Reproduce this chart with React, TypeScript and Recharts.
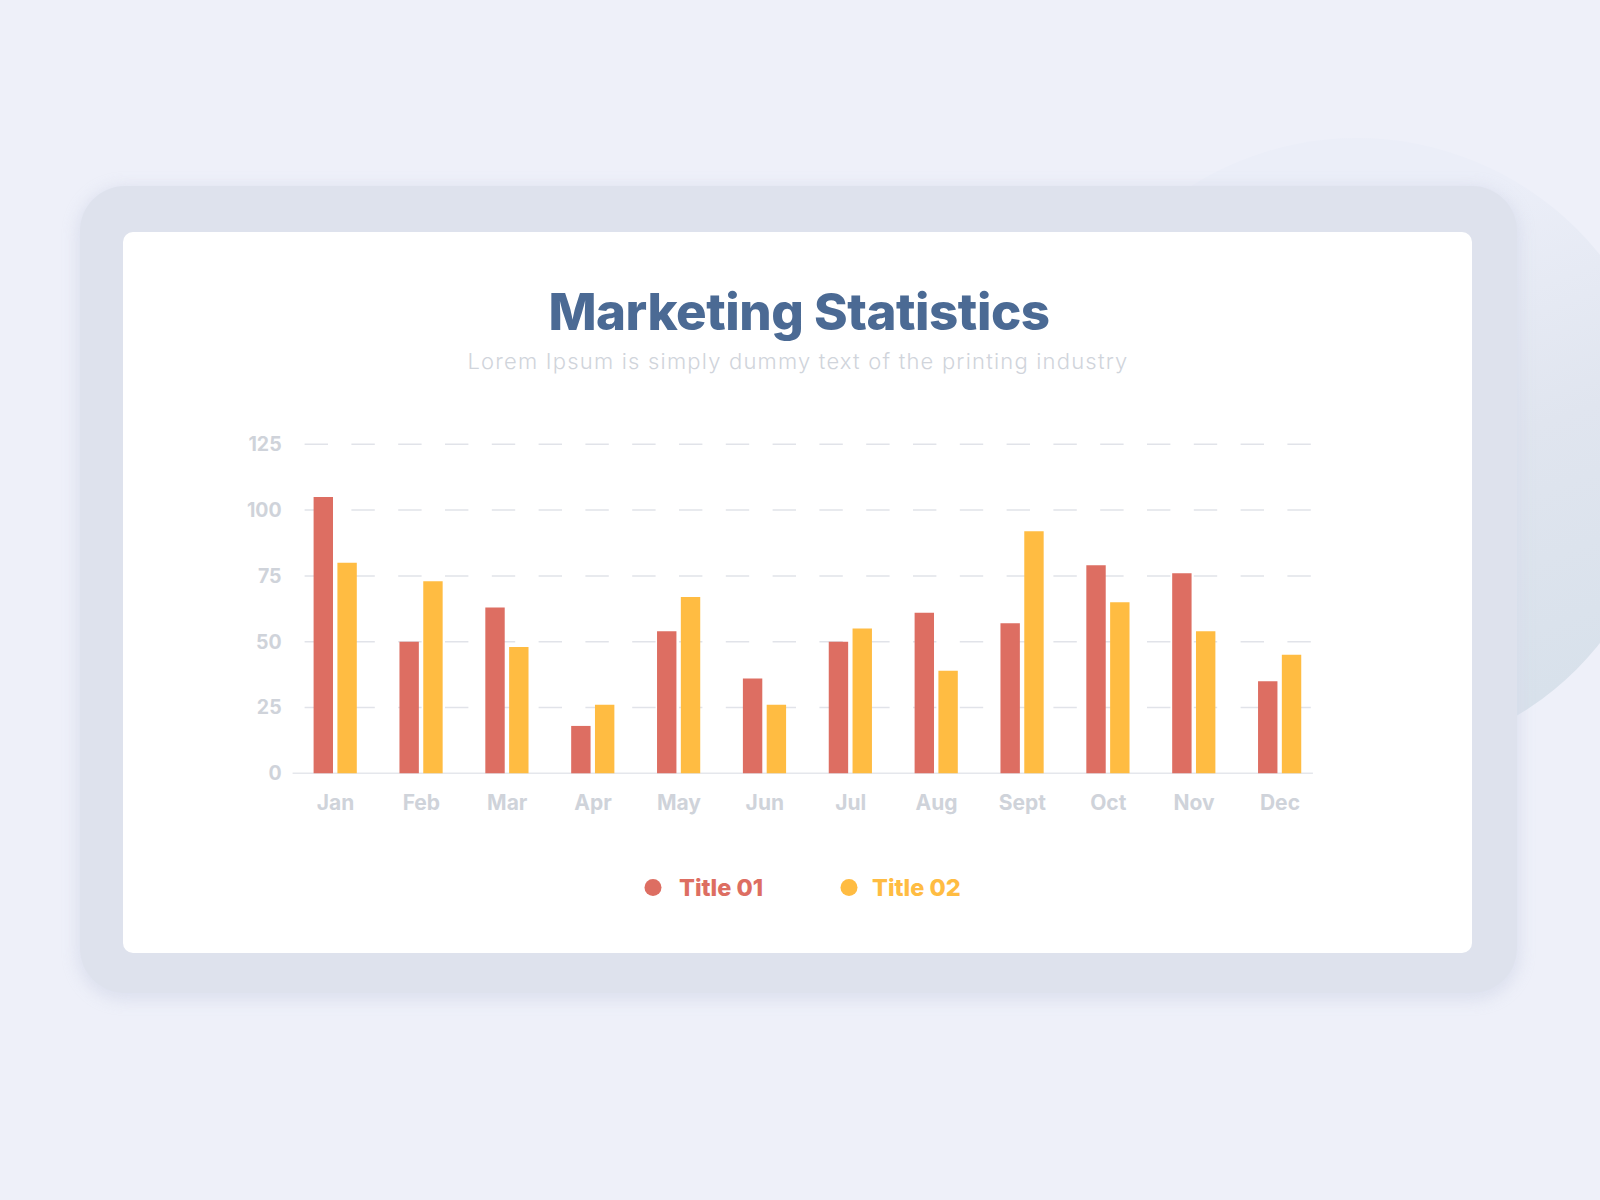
import React from 'react';
import { BarChart, Bar, XAxis, YAxis, CartesianGrid } from 'recharts';

const months = ['Jan', 'Feb', 'Mar', 'Apr', 'May', 'Jun', 'Jul', 'Aug', 'Sept', 'Oct', 'Nov', 'Dec'];
const title01 = [105, 50, 63, 18, 54, 36, 50, 61, 57, 79, 76, 35];
const title02 = [80, 73, 48, 26, 67, 26, 55, 39, 92, 65, 54, 45];
const yTicks = [0, 25, 50, 75, 100, 125];
const seriesNames = ['Title 01', 'Title 02'];
const seriesColors = ['#dd6e62', '#ffbc42'];
const chartTitle = 'Marketing Statistics';
const chartSubtitle = 'Lorem Ipsum is simply dummy text of the printing industry';

const data = months.map((m, i) => ({ month: m, t1: title01[i], t2: title02[i] }));

const FONT = 'Inter, "Open Sans", sans-serif';

const CHART_W = 1600;
const CHART_H = 1200;
const MARGIN = { top: 444.3, right: 277.1, bottom: 386.7, left: 232.6 };
const X_AXIS_H = 40;
const PLOT_BOTTOM = CHART_H - MARGIN.bottom - X_AXIS_H;

const renderGridLine = (props: any) => {
  const { x1, x2, y1, y2, key } = props;
  if (Math.abs(y1 - PLOT_BOTTOM) < 1) {
    return (
      <line key={key} x1={x1} x2={x2 - 10} y1={y1} y2={y2} stroke="#e5e7ec" strokeWidth={1.5} />
    );
  }
  return (
    <line
      key={key}
      x1={x1}
      x2={x2}
      y1={y1}
      y2={y2}
      stroke="#e1e3e9"
      strokeWidth={1.5}
      strokeDasharray="23.4 23.4"
      strokeDashoffset={34.8}
    />
  );
};

export default function App() {
  const legendItems = [
    { name: seriesNames[0], color: seriesColors[0], dotX: 653, textX: 679 },
    { name: seriesNames[1], color: seriesColors[1], dotX: 849, textX: 872 },
  ];
  return (
    <div
      style={{
        position: 'absolute',
        left: 0,
        top: 0,
        width: 1600,
        height: 1200,
        background: '#eef0f9',
        overflow: 'hidden',
      }}
    >
      <div
        style={{
          position: 'absolute',
          left: 1046,
          top: 138,
          width: 622,
          height: 622,
          borderRadius: '50%',
          background: 'linear-gradient(160deg, #ebeef8 25%, #e0e5ef 55%, #d6e0ea 95%)',
        }}
      />
      <div
        style={{
          position: 'absolute',
          left: 80,
          top: 186,
          width: 1437,
          height: 807,
          borderRadius: 45,
          background: '#dee2ed',
          boxShadow: '0 4px 14px 4px rgba(215,220,235,0.7)',
        }}
      />
      <div
        style={{
          position: 'absolute',
          left: 123,
          top: 232,
          width: 1349,
          height: 721,
          borderRadius: 10,
          background: '#ffffff',
        }}
      />
      <svg
        width={1600}
        height={1200}
        style={{ position: 'absolute', left: 0, top: 0 }}
      >
        <text
          x={799}
          y={330}
          textAnchor="middle"
          fontFamily={FONT}
          fontWeight={800}
          fontSize={51}
          letterSpacing={-0.45}
          fill="#4b6a94"
        >
          {chartTitle}
        </text>
        <text
          x={798}
          y={369}
          textAnchor="middle"
          fontFamily={FONT}
          fontWeight={300}
          fontSize={22}
          letterSpacing={1.2}
          fill="#d0d4db"
        >
          {chartSubtitle}
        </text>
        {legendItems.map((it) => (
          <g key={it.name}>
            <circle cx={it.dotX} cy={887.5} r={8.5} fill={it.color} />
            <text
              x={it.textX}
              y={896}
              fontFamily={FONT}
              fontWeight={800}
              fontSize={23.5}
              fill={it.color}
            >
              {it.name}
            </text>
          </g>
        ))}
      </svg>
      <div style={{ position: 'absolute', left: 0, top: 0 }}>
        <BarChart
          width={CHART_W}
          height={CHART_H}
          data={data}
          margin={MARGIN}
          barSize={19.4}
          barGap={4.4}
        >
          <CartesianGrid vertical={false} horizontal={renderGridLine} />
          <XAxis
            dataKey="month"
            interval={0}
            height={X_AXIS_H}
            tickLine={false}
            tickMargin={16}
            axisLine={false}
            tick={{ fill: '#cfd3da', fontSize: 21, fontWeight: 700, fontFamily: FONT }}
          />
          <YAxis
            domain={[0, 125]}
            ticks={yTicks}
            width={60}
            axisLine={false}
            tickLine={false}
            tickMargin={5}
            tick={{ fill: '#cfd3da', fontSize: 19.5, fontWeight: 700, fontFamily: FONT }}
          />
          <Bar dataKey="t1" name={seriesNames[0]} fill={seriesColors[0]} isAnimationActive={false} />
          <Bar dataKey="t2" name={seriesNames[1]} fill={seriesColors[1]} isAnimationActive={false} />
        </BarChart>
      </div>
    </div>
  );
}
